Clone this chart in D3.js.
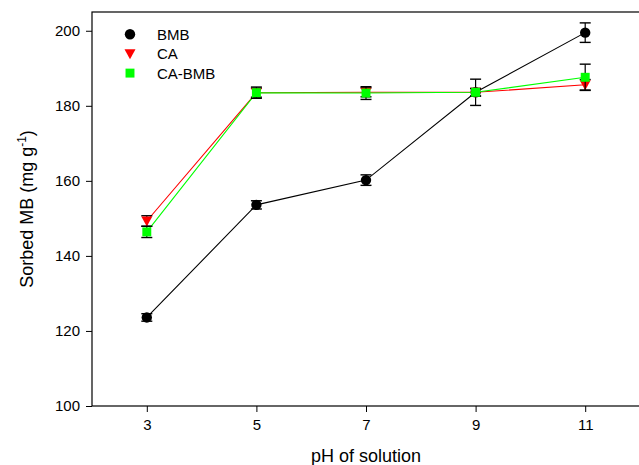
<!DOCTYPE html>
<html>
<head>
<meta charset="utf-8">
<script src="https://cdn.jsdelivr.net/npm/d3@7"></script>
<style>
  body { margin: 0; background: #fff; }
  text { font-family: Arial, "Liberation Sans", sans-serif; }
</style>
</head>
<body>
<svg id="chart" width="639" height="465"></svg>
<script>
// =======================
//  Data
// =======================

var PH = [3, 5, 7, 9, 11];
var X_TICKS = [3, 5, 7, 9, 11];
var Y_TICKS = [100, 120, 140, 160, 180, 200];

var BMB = [123.6, 153.6, 160.2, 183.6, 199.5];
var BMB_ERR = [1.0, 1.1, 1.4, 3.5, 2.6];

var CA = [149.3, 183.5, 183.6, 183.6, 185.6];
var CA_ERR = [1.4, 1.2, 1.2, 1.0, 1.4];

var CA_BMB = [146.4, 183.5, 183.4, 183.6, 187.6];
var CA_BMB_ERR = [1.5, 1.5, 1.7, 1.0, 3.5];

var SERIES = [
    {name: 'BMB', values: BMB, err: BMB_ERR, color: '#000000', symbol: 'circle'},
    {name: 'CA', values: CA, err: CA_ERR, color: '#ff0000', symbol: 'tri'},
    {name: 'CA-BMB', values: CA_BMB, err: CA_BMB_ERR, color: '#00ff00', symbol: 'square'}
];

// =======================
//  Layout
// =======================

var plotLeft = 92, plotRight = 640, plotTop = 12, plotBottom = 406;
var svg = d3.select('#chart');

var x = d3.scaleLinear().domain([2, 12]).range([plotLeft, plotRight]);
var y = d3.scaleLinear().domain([100, 205]).range([plotBottom, plotTop]);

// frame
svg.append('rect')
    .attr('x', plotLeft).attr('y', plotTop)
    .attr('width', plotRight - plotLeft).attr('height', plotBottom - plotTop)
    .attr('fill', 'none').attr('stroke', '#000').attr('stroke-width', 1.2);

// axes
var xAxis = svg.append('g')
    .attr('transform', 'translate(0,' + plotBottom + ')')
    .call(d3.axisBottom(x).tickValues(X_TICKS).tickSize(6).tickPadding(7));
var yAxis = svg.append('g')
    .attr('transform', 'translate(' + plotLeft + ',0)')
    .call(d3.axisLeft(y).tickValues(Y_TICKS).tickSize(6).tickPadding(6));

[xAxis, yAxis].forEach(function(a) {
    a.select('.domain').remove();
    a.selectAll('line').attr('stroke', '#000').attr('stroke-width', 1);
    a.selectAll('text').attr('font-size', 15).attr('fill', '#000')
        .style('font-family', 'Arial, "Liberation Sans", sans-serif');
});

// axis titles
svg.append('text')
    .attr('x', (plotLeft + plotRight) / 2).attr('y', 462)
    .attr('text-anchor', 'middle').attr('font-size', 18)
    .text('pH of solution');

var yTitle = svg.append('text')
    .attr('transform', 'translate(33,' + ((plotTop + plotBottom) / 2) + ') rotate(-90)')
    .attr('text-anchor', 'middle').attr('font-size', 18);
yTitle.append('tspan').text('Sorbed MB (mg g');
yTitle.append('tspan').attr('font-size', 12).attr('dy', -7).text('-1');
yTitle.append('tspan').attr('dy', 7).text(')');

// =======================
//  Series
// =======================

function markerPath(sym) {
    if (sym === 'tri') return 'M-5.5,-4.5L5.5,-4.5L0,5.5Z';
    if (sym === 'circle') return d3.symbol().type(d3.symbolCircle).size(85)();
    return d3.symbol().type(d3.symbolSquare).size(80)();
}

var line = d3.line()
    .x(function(d) { return x(d.x); })
    .y(function(d) { return y(d.y); });

SERIES.forEach(function(s) {
    var pts = PH.map(function(p, i) { return {x: p, y: s.values[i], e: s.err[i]}; });
    var g = svg.append('g').attr('class', 'series');

    g.append('path')
        .attr('d', line(pts))
        .attr('fill', 'none')
        .attr('stroke', s.color)
        .attr('stroke-width', 1.1);

    var eb = g.selectAll('.err').data(pts).join('g').attr('class', 'err');
    eb.append('line')
        .attr('x1', function(d) { return x(d.x); })
        .attr('x2', function(d) { return x(d.x); })
        .attr('y1', function(d) { return y(d.y - d.e); })
        .attr('y2', function(d) { return y(d.y + d.e); })
        .attr('stroke', '#000').attr('stroke-width', 1.2);
    [-1, 1].forEach(function(sg) {
        eb.append('line')
            .attr('x1', function(d) { return x(d.x) - 5.5; })
            .attr('x2', function(d) { return x(d.x) + 5.5; })
            .attr('y1', function(d) { return y(d.y + sg * d.e); })
            .attr('y2', function(d) { return y(d.y + sg * d.e); })
            .attr('stroke', '#000').attr('stroke-width', 1.4);
    });

    g.selectAll('.mark').data(pts).join('path')
        .attr('class', 'mark')
        .attr('d', markerPath(s.symbol))
        .attr('transform', function(d) { return 'translate(' + x(d.x) + ',' + y(d.y) + ')'; })
        .attr('fill', s.color);
});

// =======================
//  Legend
// =======================

var legend = svg.append('g').selectAll('g').data(SERIES).join('g')
    .attr('transform', function(d, i) { return 'translate(130,' + (34.3 + i * 19.4) + ')'; });
legend.append('path')
    .attr('d', function(d) { return markerPath(d.symbol); })
    .attr('fill', function(d) { return d.color; });
legend.append('text')
    .attr('x', 27).attr('y', 5.5)
    .attr('font-size', 15)
    .text(function(d) { return d.name; });
</script>
</body>
</html>
